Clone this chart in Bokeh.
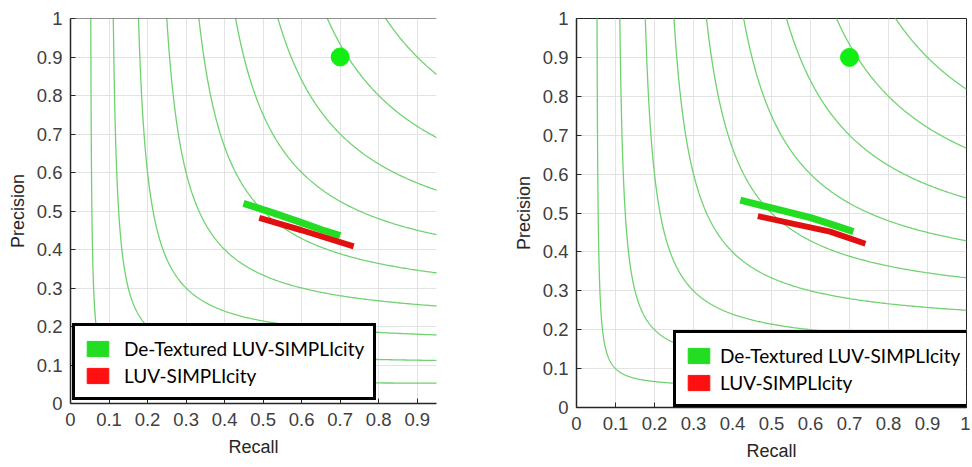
import numpy as np
from bokeh.plotting import figure
from bokeh.layouts import row
from bokeh.models import FixedTicker, Legend, LegendItem, Range1d, Span
from bokeh.embed import file_html
from bokeh.resources import INLINE

# ---- data ----
f_levels = [0.1, 0.2, 0.3, 0.4, 0.5, 0.6, 0.7, 0.8, 0.9]
tick_values = [0, 0.1, 0.2, 0.3, 0.4, 0.5, 0.6, 0.7, 0.8, 0.9, 1.0]
tick_labels = ["0", "0.1", "0.2", "0.3", "0.4", "0.5", "0.6", "0.7", "0.8", "0.9", "1"]
series_names = ["De-Textured LUV-SIMPLIcity", "LUV-SIMPLIcity"]

ideal_recall = [0.7]
ideal_precision = [0.9]

left_green_recall = [0.449, 0.52, 0.596, 0.65, 0.70]
left_green_precision = [0.52, 0.497, 0.471, 0.452, 0.436]
left_red_recall = [0.49, 0.60, 0.735]
left_red_precision = [0.482, 0.45, 0.408]

right_green_recall = [0.42, 0.50, 0.60, 0.65, 0.71]
right_green_precision = [0.533, 0.513, 0.488, 0.472, 0.452]
right_red_recall = [0.465, 0.557, 0.65, 0.741]
right_red_precision = [0.492, 0.472, 0.452, 0.421]

# ---- styles ----
ISO_COLOR = "#6fd26f"
GREEN = "#22dd22"
RED = "#e01010"
DOT = "#11ee11"
AXIS_COLOR = "#262626"
LABEL_COLOR = "#404040"


def style_axis(ax):
    ax.ticker = FixedTicker(ticks=tick_values)
    ax.major_label_overrides = {v: l for v, l in zip(tick_values, tick_labels)}
    ax.minor_tick_line_color = None
    ax.major_tick_in = 5
    ax.major_tick_out = 0
    ax.major_tick_line_color = AXIS_COLOR
    ax.axis_line_color = AXIS_COLOR
    ax.axis_line_width = 1.5
    ax.major_label_text_font = "Liberation Sans"
    ax.major_label_text_font_size = "18.5px"
    ax.major_label_text_color = LABEL_COLOR
    ax.axis_label_text_font = "Liberation Sans"
    ax.axis_label_text_font_size = "18px"
    ax.axis_label_text_font_style = "normal"
    ax.axis_label_text_color = AXIS_COLOR


def make_panel(x_end, frame_w, frame_h, border_left, border_right, border_bottom,
               green_r, green_p, red_r, red_p, legend_loc, standoff, outline):
    p = figure(frame_width=frame_w, frame_height=frame_h,
               x_range=Range1d(0, x_end), y_range=Range1d(0, 1),
               output_backend="svg", toolbar_location=None,
               min_border_left=border_left, min_border_right=border_right,
               min_border_top=18, min_border_bottom=border_bottom)
    p.background_fill_color = "white"
    p.border_fill_color = "white"
    p.outline_line_color = AXIS_COLOR if outline else None

    style_axis(p.xaxis[0])
    style_axis(p.yaxis[0])
    p.xaxis[0].axis_label = "Recall"
    p.yaxis[0].axis_label = "Precision"
    p.xaxis[0].major_label_standoff = 9
    p.yaxis[0].major_label_standoff = 8
    p.xaxis[0].axis_label_standoff = 8
    p.yaxis[0].axis_label_standoff = 6

    if not outline:
        p.add_layout(Span(location=1, dimension="width", line_color=AXIS_COLOR, line_width=1))

    p.xgrid.ticker = FixedTicker(ticks=tick_values)
    p.ygrid.ticker = FixedTicker(ticks=tick_values)
    p.grid.grid_line_color = "#e3e3e3"
    p.grid.grid_line_width = 1

    # iso-F-measure contours
    for f in f_levels:
        p_top = 1.6
        r_start = f * p_top / (2 * p_top - f)
        r = np.geomspace(r_start - f / 2, 1.0 - f / 2, 500) + f / 2
        prec = f * r / (2 * r - f)
        p.line(r, prec, line_color=ISO_COLOR, line_width=1.3)

    p.line(green_r, green_p, line_color=GREEN, line_width=7, line_cap="butt")
    p.line(red_r, red_p, line_color=RED, line_width=6, line_cap="butt")
    p.scatter(ideal_recall, ideal_precision, size=18, color=DOT)

    # off-range placeholders that give the legend its colour patches
    g_dummy = p.quad(left=[5], right=[6], top=[6], bottom=[5], fill_color=GREEN, line_color=GREEN)
    r_dummy = p.quad(left=[5], right=[6], top=[6], bottom=[5], fill_color="#ff1010", line_color="#ff1010")
    legend = Legend(items=[LegendItem(label=series_names[0], renderers=[g_dummy]),
                           LegendItem(label=series_names[1], renderers=[r_dummy])],
                    location=legend_loc, margin=0, padding=9, spacing=1,
                    glyph_width=27, glyph_height=19, label_standoff=standoff,
                    label_height=26,
                    label_text_font="Lato", label_text_font_size="19px",
                    label_text_color="black",
                    border_line_color="black", border_line_width=3, border_line_alpha=1.0,
                    background_fill_color="white", background_fill_alpha=1)
    p.add_layout(legend, "center")
    return p


left = make_panel(0.95, 366, 385, 70, 74, 60,
                  left_green_recall, left_green_precision,
                  left_red_recall, left_red_precision, (2, 3), 13, False)
right = make_panel(1.0, 390, 389, 66, 4, 56,
                   right_green_recall, right_green_precision,
                   right_red_recall, right_red_precision, (97, 0), 8, True)

layout = row(left, right)
open("out.html", "w").write(file_html(layout, INLINE))
